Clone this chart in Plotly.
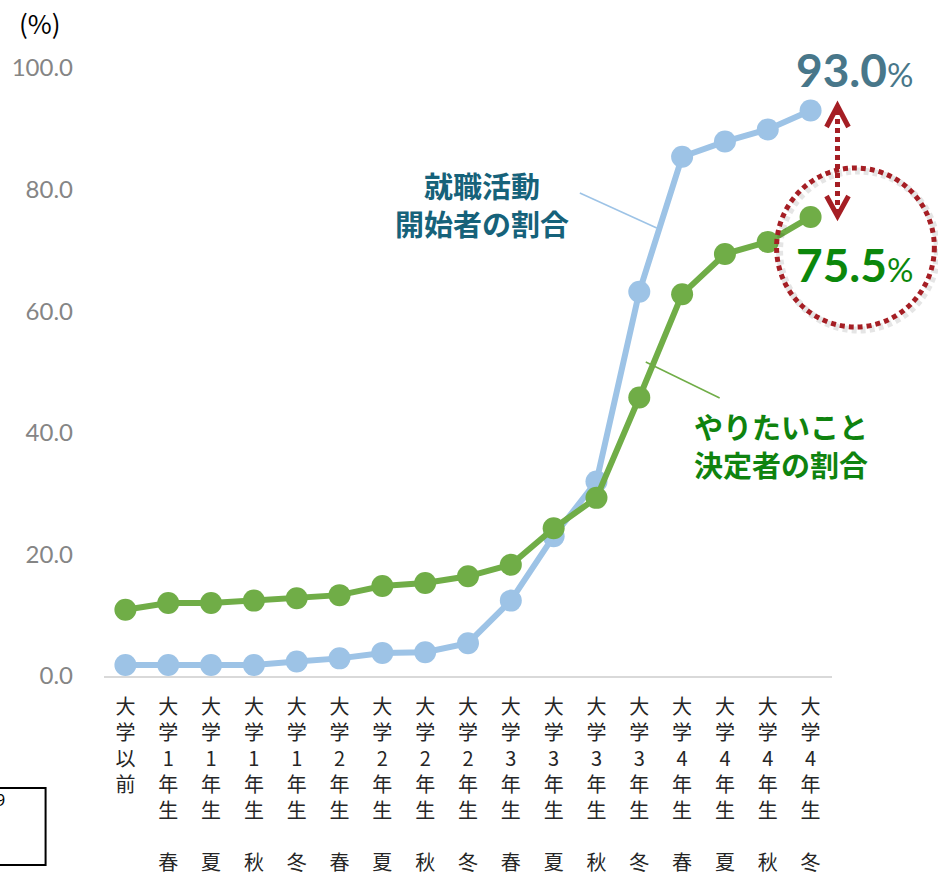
import plotly.graph_objects as go

# ---- data ----
categories = ["大学以前", "大学1年生春", "大学1年生夏", "大学1年生秋", "大学1年生冬",
              "大学2年生春", "大学2年生夏", "大学2年生秋", "大学2年生冬",
              "大学3年生春", "大学3年生夏", "大学3年生秋", "大学3年生冬",
              "大学4年生春", "大学4年生夏", "大学4年生秋", "大学4年生冬"]
tick_labels = ["大<br>学<br>以<br>前<br> <br> <br> "] + [
    "大<br>学<br>%s<br>年<br>生<br> <br>%s" % (y, s)
    for y in ["1", "2", "3", "4"] for s in ["春", "夏", "秋", "冬"]]
job_hunting_start = [1.8, 1.8, 1.8, 1.8, 2.4, 2.9, 3.8, 3.9, 5.4, 12.4, 23.0, 32.0,
                     63.2, 85.4, 87.9, 89.9, 93.0]
want_to_do_decided = [10.9, 12.0, 12.0, 12.4, 12.8, 13.3, 14.8, 15.3, 16.4, 18.3, 24.3, 29.3,
                      45.8, 62.8, 69.4, 71.4, 75.5]
y_ticks = [0, 20, 40, 60, 80, 100]

BLUE = "#9dc3e6"
GREEN = "#70ad47"
RED = "#a51e24"

W, H = 938, 874
L, R, T, B = 103.5, 832.5, 68, 676


def px(x):
    return (x - L) / (R - L)


def py(y):
    return (B - y) / (B - T)


fig = go.Figure()
fig.add_trace(go.Scatter(
    x=list(range(len(categories))), y=job_hunting_start, mode="lines+markers",
    line=dict(color=BLUE, width=6), marker=dict(color=BLUE, size=22),
    cliponaxis=False, hoverinfo="y", name="就職活動開始者の割合"))
fig.add_trace(go.Scatter(
    x=list(range(len(categories))), y=want_to_do_decided, mode="lines+markers",
    line=dict(color=GREEN, width=6), marker=dict(color=GREEN, size=22),
    cliponaxis=False, hoverinfo="y", name="やりたいこと決定者の割合"))

shapes = [
    # leader lines
    dict(type="line", xref="paper", yref="paper", x0=px(580), y0=py(193), x1=px(657), y1=py(228),
         line=dict(color=BLUE, width=1.5)),
    dict(type="line", xref="paper", yref="paper", x0=px(646), y0=py(362), x1=px(720), y1=py(398),
         line=dict(color=GREEN, width=1.5)),
    # circle shadow + circle
    dict(type="circle", xref="paper", yref="paper", x0=px(780), x1=px(938), y0=py(330), y1=py(171),
         line=dict(color="rgba(0,0,0,0.10)", width=7, dash="5px,4px")),
    dict(type="circle", xref="paper", yref="paper", x0=px(777), x1=px(935), y0=py(327), y1=py(168),
         line=dict(color=RED, width=5, dash="5px,4px")),
    # double arrow
    dict(type="line", xref="paper", yref="paper", x0=px(838), x1=px(838), y0=py(110), y1=py(212),
         line=dict(color=RED, width=5, dash="5px,4px")),
    dict(type="path", xref="paper", yref="paper",
         path="M %f,%f L %f,%f L %f,%f" % (px(827), py(127), px(838), py(106), px(849), py(127)),
         line=dict(color=RED, width=5)),
    dict(type="path", xref="paper", yref="paper",
         path="M %f,%f L %f,%f L %f,%f" % (px(827), py(196), px(838), py(216), px(849), py(196)),
         line=dict(color=RED, width=5)),
    # fragment box bottom-left
    dict(type="rect", xref="paper", yref="paper", x0=px(-5), x1=px(45), y0=py(865), y1=py(788),
         line=dict(color="black", width=2)),
]

annotations = [
    dict(text="(%)", x=px(39), y=py(23), xref="paper", yref="paper", showarrow=False,
         xanchor="center", yanchor="middle",
         font=dict(family="Noto Sans CJK JP", size=26, color="black")),
    dict(text="<b>93.0</b><span style='font-size:33px'>%</span>", x=px(794), y=py(69),
         xref="paper", yref="paper", showarrow=False, xanchor="left", yanchor="middle",
         font=dict(family="Lato", size=46, color="#48778a")),
    dict(text="<b>75.5</b><span style='font-size:33px'>%</span>", x=px(794), y=py(264),
         xref="paper", yref="paper", showarrow=False, xanchor="left", yanchor="middle",
         font=dict(family="Lato", size=46, color="#0b870b")),
    dict(text="<b>就職活動<br>開始者の割合</b>", x=px(482), y=py(204),
         xref="paper", yref="paper", showarrow=False, xanchor="center", yanchor="middle",
         font=dict(family="Noto Sans CJK JP", size=29, color="#16627a")),
    dict(text="<b>やりたいこと<br>決定者の割合</b>", x=px(781), y=py(445),
         xref="paper", yref="paper", showarrow=False, xanchor="center", yanchor="middle",
         font=dict(family="Noto Sans CJK JP", size=29, color="#0f830f")),
    dict(text="9", x=px(6), y=py(800), xref="paper", yref="paper", showarrow=False,
         xanchor="right", yanchor="middle",
         font=dict(family="Noto Sans", size=16, color="black")),
]

fig.update_layout(
    width=W, height=H,
    margin=dict(l=L, r=W - R, t=T, b=H - B, pad=0, autoexpand=False),
    paper_bgcolor="white", plot_bgcolor="white",
    showlegend=False,
    shapes=shapes, annotations=annotations,
    xaxis=dict(range=[-0.5, len(categories) - 0.5], tickmode="array", automargin=False,
               tickvals=list(range(len(categories))), ticktext=tick_labels,
               tickangle=0, showgrid=False, zeroline=False,
               showline=True, linecolor="#d9d9d9", linewidth=2, ticks="",
               ticklabelstandoff=12,
               tickfont=dict(family="Noto Sans CJK JP", size=20, color="#262626")),
    yaxis=dict(range=[0, 100], tickmode="array", tickvals=y_ticks, automargin=False,
               ticktext=["%.1f" % v for v in y_ticks], showgrid=False, zeroline=False,
               showline=False, ticks="", ticklabelstandoff=30,
               tickfont=dict(family="Lato", size=24, color="#858585")),
)

fig.write_html("out.html")
